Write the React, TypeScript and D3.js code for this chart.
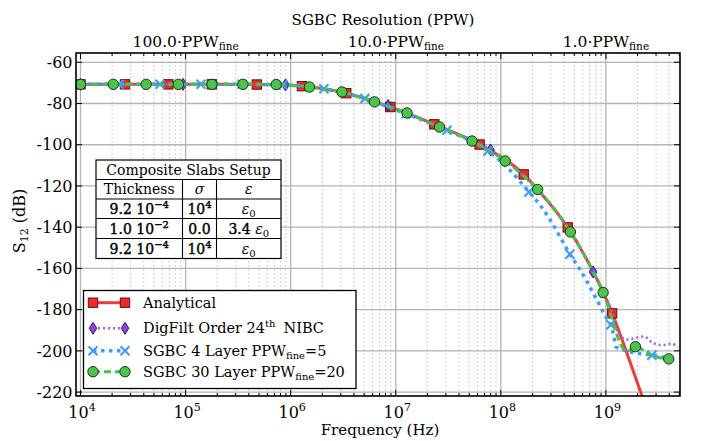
import React from 'react';
import * as d3 from 'd3';

// ---------------- data ----------------
const xDomain: [number, number] = [9.06e3, 5.07e9];
const yDomain: [number, number] = [-55.5, -221.9];
const yTicks = [-60, -80, -100, -120, -140, -160, -180, -200, -220];
const xMajorTicks = [1e4, 1e5, 1e6, 1e7, 1e8, 1e9];
const xTickExponents = ['4', '5', '6', '7', '8', '9'];
const topTickFreqs = [1e5, 1e7, 1e9];
const topTickLabels = ['100.0', '10.0', '1.0'];

const analyticalFreq = [1e4, 2.65e4, 6.86e4, 1.78e5, 4.76e5, 1.28e6, 3.38e6, 8.87e6, 2.33e7, 6.28e7, 1.65e8, 2.24e8, 4.33e8, 7.59e8, 9.44e8, 1.146e9, 2.21e9, 2.82e9];
const analyticalS12 = [-70.7, -70.7, -70.7, -70.7, -70.8, -71.6, -75.0, -81.7, -90.1, -99.9, -114.4, -121.7, -140.1, -161.7, -171.5, -181.8, -222.0, -237.0];
const analyticalMarkerIdx = [0, 1, 2, 3, 4, 5, 6, 7, 8, 9, 10, 12, 15];

const digfiltFreq = [1e4, 9.46e4, 3.16e5, 8.93e5, 3.16e6, 8.45e6, 2.51e7, 7.98e7, 2.0e8, 3.98e8, 7.55e8, 9.44e8, 1.146e9, 1.26e9, 1.58e9, 2.0e9, 2.29e9, 2.82e9, 3.47e9, 4.27e9, 4.79e9];
const digfiltS12 = [-70.7, -70.7, -70.7, -71.0, -74.7, -81.0, -91.0, -102.5, -119.5, -137.5, -161.7, -171.5, -181.8, -189.5, -194.5, -193.5, -193.0, -196.3, -197.2, -196.5, -198.5];
const digfiltMarkerIdx = [0, 1, 3, 5, 7, 10];

const sgbc4Freq = [1e4, 2.33e4, 5.71e4, 1.40e5, 3.44e5, 8.45e5, 2.07e6, 5.09e6, 1.25e7, 3.07e7, 7.53e7, 1.23e8, 1.85e8, 2.38e8, 2.95e8, 3.69e8, 4.54e8, 5.51e8, 6.62e8, 8.24e8, 1.0e9, 1.114e9, 1.19e9, 1.245e9, 1.58e9, 2.74e9, 3.98e9];
const sgbc4S12 = [-70.7, -70.7, -70.7, -70.7, -70.7, -71.0, -72.8, -77.6, -85.0, -93.0, -103.0, -112.5, -122.9, -129.5, -136.5, -145.0, -153.1, -159.5, -166.5, -175.5, -183.5, -187.3, -193.0, -198.0, -200.0, -202.1, -203.5];
const sgbc4MarkerIdx = [1, 2, 3, 4, 5, 6, 7, 8, 9, 10, 12, 16, 21, 25];

const sgbc30Freq = [1e4, 2.05e4, 4.21e4, 8.53e4, 1.78e5, 3.51e5, 7.28e5, 1.51e6, 3.08e6, 6.28e6, 1.28e7, 2.61e7, 5.32e7, 1.10e8, 2.24e8, 4.59e8, 9.40e8, 1.58e9, 1.91e9, 2.75e9, 3.96e9];
const sgbc30S12 = [-70.7, -70.7, -70.7, -70.7, -70.7, -70.7, -70.8, -72.0, -74.4, -79.2, -84.6, -91.4, -98.2, -107.9, -121.7, -142.3, -171.7, -200.3, -198.0, -202.3, -203.9];
const sgbc30MarkerIdx = [0, 1, 2, 3, 4, 5, 6, 7, 8, 9, 10, 11, 12, 13, 14, 15, 16, 18, 20];

const tableTitle = 'Composite Slabs Setup';
const tableHeaders = ['Thickness', 'σ', 'ε'];
const tableThicknessMant = ['9.2', '1.0', '9.2'];
const tableThicknessExp = ['−4', '−2', '−4'];
const tableSigma = ['10^4', '0.0', '10^4'];
const tableEps = ['ε0', '3.4 ε0', 'ε0'];

// ---------------- layout ----------------
const W = 702, H = 441;
const M = { left: 76, right: 680, top: 53, bottom: 396 };
const FONT = "'DejaVu Serif', serif";

const COLORS = {
  red: '#f23a3a', redFill: '#ec2a2a', redEdge: '#6e0f0f',
  purple: '#a65ee8', purpleFill: '#8c45d6', purpleEdge: '#3a1764',
  blue: '#3c9dff',
  green: '#45c545', greenFill: '#4cc44c', greenEdge: '#1c331c',
};

type MarkerKind = 'square' | 'diamond' | 'x' | 'circle';

function Marker({ kind, cx, cy }: { kind: MarkerKind; cx: number; cy: number }) {
  if (kind === 'square')
    return <rect x={cx - 4.7} y={cy - 4.7} width={9.4} height={9.4} fill={COLORS.redFill} stroke={COLORS.redEdge} strokeWidth={1} />;
  if (kind === 'diamond')
    return <path d={`M${cx},${cy - 6} L${cx + 3.8},${cy} L${cx},${cy + 6} L${cx - 3.8},${cy} Z`} fill={COLORS.purpleFill} stroke={COLORS.purpleEdge} strokeWidth={1} />;
  if (kind === 'x')
    return <g stroke={COLORS.blue} strokeWidth={2.2}>
      <line x1={cx - 4.5} y1={cy - 4.5} x2={cx + 4.5} y2={cy + 4.5} />
      <line x1={cx - 4.5} y1={cy + 4.5} x2={cx + 4.5} y2={cy - 4.5} />
    </g>;
  return <circle cx={cx} cy={cy} r={5.2} fill={COLORS.greenFill} stroke={COLORS.greenEdge} strokeWidth={1} />;
}

const series = [
  { key: 'an', freq: analyticalFreq, s12: analyticalS12, idx: analyticalMarkerIdx, color: COLORS.red, width: 3, dash: undefined as string | undefined, marker: 'square' as MarkerKind },
  { key: 'df', freq: digfiltFreq, s12: digfiltS12, idx: digfiltMarkerIdx, color: COLORS.purple, width: 2.6, dash: '2,3', marker: 'diamond' as MarkerKind },
  { key: 's4', freq: sgbc4Freq, s12: sgbc4S12, idx: sgbc4MarkerIdx, color: COLORS.blue, width: 3.5, dash: '3.5,4.5', marker: 'x' as MarkerKind },
  { key: 's30', freq: sgbc30Freq, s12: sgbc30S12, idx: sgbc30MarkerIdx, color: COLORS.green, width: 3, dash: '7,4', marker: 'circle' as MarkerKind },
];

export default function App() {
  const x = d3.scaleLog().domain(xDomain).range([M.left, M.right]);
  const y = d3.scaleLinear().domain(yDomain).range([M.top, M.bottom]);
  const line = d3.line<[number, number]>().x(d => x(d[0])).y(d => y(d[1])).curve(d3.curveMonotoneX);

  const allTicks = x.ticks(60).filter(v => v > xDomain[0] && v < xDomain[1]);
  const minorTicks = allTicks.filter(v => !xMajorTicks.some(m => Math.abs(m - v) / m < 1e-6));

  // table geometry
  const tL = 96, tR = 281;
  const rowsY = [160, 179.5, 199, 218.5, 238.5, 258.5];
  const colX = [tL, 182.5, 216.5, tR];
  const colC = [(colX[0] + colX[1]) / 2, (colX[1] + colX[2]) / 2, (colX[2] + colX[3]) / 2];

  // legend geometry
  const lg = { x: 83.5, y: 290.5, w: 272.5, h: 98 };
  const lgRows = [302.7, 328.3, 350.7, 371.7];

  const semi = { stroke: '#000', strokeWidth: 0.4 };

  const renderEps = (s: string, cx: number, cy: number) => {
    const parts = s.split('ε0');
    return (
      <text x={cx} y={cy} textAnchor="middle" fontSize={14}>
        {parts[0] ? <tspan {...semi}>{parts[0]}</tspan> : null}
        <tspan fontStyle="italic">ε</tspan>
        <tspan fontSize={10} dy={3}>0</tspan>
      </text>
    );
  };

  return (
    <svg width={W} height={H} style={{ position: 'absolute', left: 0, top: 0, background: '#fff' }} fontFamily={FONT}>
      <defs>
        <clipPath id="plotClip">
          <rect x={M.left} y={M.top} width={M.right - M.left} height={M.bottom - M.top} />
        </clipPath>
      </defs>
      <rect x={0} y={0} width={W} height={H} fill="#fff" />

      {/* grid */}
      <g>
        {minorTicks.map((v, i) => (
          <line key={'mg' + i} x1={x(v)} x2={x(v)} y1={M.top} y2={M.bottom} stroke="#c4c4c4" strokeWidth={1} strokeDasharray="1.5,2.5" />
        ))}
        {xMajorTicks.map((v, i) => (
          <line key={'xg' + i} x1={x(v)} x2={x(v)} y1={M.top} y2={M.bottom} stroke="#b4b4b4" strokeWidth={1.3} />
        ))}
        {yTicks.map((v, i) => (
          <line key={'yg' + i} x1={M.left} x2={M.right} y1={y(v)} y2={y(v)} stroke="#b4b4b4" strokeWidth={1.3} />
        ))}
      </g>

      {/* series */}
      <g clipPath="url(#plotClip)">
        {series.map(s => {
          const pts = s.freq.map((f, i) => [f, s.s12[i]] as [number, number]);
          return (
            <g key={s.key}>
              <path d={line(pts) || ''} fill="none" stroke={s.color} strokeWidth={s.width} strokeDasharray={s.dash} strokeLinecap="butt" />
              {s.idx.map(i => (
                <Marker key={i} kind={s.marker} cx={x(s.freq[i])} cy={y(s.s12[i])} />
              ))}
            </g>
          );
        })}
      </g>

      {/* ticks */}
      <g stroke="#000" strokeWidth={1}>
        {xMajorTicks.map((v, i) => (
          <g key={'xt' + i}>
            <line x1={x(v)} x2={x(v)} y1={M.bottom} y2={M.bottom - 6} />
            <line x1={x(v)} x2={x(v)} y1={M.top} y2={M.top + 6} />
          </g>
        ))}
        {minorTicks.map((v, i) => (
          <g key={'xm' + i}>
            <line x1={x(v)} x2={x(v)} y1={M.bottom} y2={M.bottom - 3} />
            <line x1={x(v)} x2={x(v)} y1={M.top} y2={M.top + 3} />
          </g>
        ))}
        {yTicks.map((v, i) => (
          <g key={'yt' + i}>
            <line x1={M.left} x2={M.left + 6} y1={y(v)} y2={y(v)} />
            <line x1={M.right} x2={M.right - 6} y1={y(v)} y2={y(v)} />
          </g>
        ))}
      </g>

      {/* frame */}
      <rect x={M.left} y={M.top} width={M.right - M.left} height={M.bottom - M.top} fill="none" stroke="#000" strokeWidth={1.6} />

      {/* y tick labels */}
      {yTicks.map((v, i) => (
        <text key={'yl' + i} x={72.5} y={y(v)} dy="0.36em" textAnchor="end" fontSize={16}>{String(v)}</text>
      ))}
      {/* x tick labels */}
      {xMajorTicks.map((v, i) => (
        <text key={'xl' + i} x={x(v) + 1.5} y={418} textAnchor="middle" fontSize={16}>
          10<tspan fontSize={11} dy={-7}>{xTickExponents[i]}</tspan>
        </text>
      ))}
      {/* top labels */}
      {topTickFreqs.map((v, i) => (
        <text key={'tl' + i} x={x(v)} y={46.5} textAnchor="middle" fontSize={15.5}>
          {topTickLabels[i]}·PPW<tspan fontSize={10.5} dy={3.5}>fine</tspan>
        </text>
      ))}
      <text x={383} y={25} textAnchor="middle" fontSize={15}>SGBC Resolution (PPW)</text>
      <text x={380} y={435} textAnchor="middle" fontSize={15}>Frequency (Hz)</text>
      <text transform="translate(25,221) rotate(-90)" textAnchor="middle" fontSize={16}>
        S<tspan fontSize={11} dy={3}>12</tspan><tspan dy={-3}> (dB)</tspan>
      </text>

      {/* table */}
      <g>
        <rect x={tL} y={rowsY[0]} width={tR - tL} height={rowsY[5] - rowsY[0]} fill="#fff" stroke="#000" strokeWidth={1.2} />
        {rowsY.slice(1, 5).map((ry, i) => (
          <line key={'tr' + i} x1={tL} x2={tR} y1={ry} y2={ry} stroke="#000" strokeWidth={1.1} />
        ))}
        {colX.slice(1, 3).map((cx, i) => (
          <line key={'tc' + i} x1={cx} x2={cx} y1={rowsY[1]} y2={rowsY[5]} stroke="#000" strokeWidth={1.1} />
        ))}
        <text x={(tL + tR) / 2} y={rowsY[0] + 15} textAnchor="middle" fontSize={14}>{tableTitle}</text>
        <text x={colC[0]} y={rowsY[1] + 14.5} textAnchor="middle" fontSize={14}>{tableHeaders[0]}</text>
        <text x={colC[1]} y={rowsY[1] + 14.5} textAnchor="middle" fontSize={14} fontStyle="italic">{tableHeaders[1]}</text>
        <text x={colC[2]} y={rowsY[1] + 14.5} textAnchor="middle" fontSize={14} fontStyle="italic">{tableHeaders[2]}</text>
        {tableThicknessMant.map((m, i) => {
          const by = rowsY[i + 2] + 15;
          const sig = tableSigma[i];
          return (
            <g key={'row' + i}>
              <text x={colC[0]} y={by} textAnchor="middle" fontSize={14} {...semi}>
                {m} 10<tspan fontSize={10} dy={-6}>{tableThicknessExp[i]}</tspan>
              </text>
              <text x={colC[1]} y={by} textAnchor="middle" fontSize={14} {...semi}>
                {sig.includes('^') ? <>{sig.split('^')[0]}<tspan fontSize={10} dy={-6}>{sig.split('^')[1]}</tspan></> : sig}
              </text>
              {renderEps(tableEps[i], colC[2], by)}
            </g>
          );
        })}
      </g>

      {/* legend */}
      <g>
        <rect x={lg.x} y={lg.y} width={lg.w} height={lg.h} fill="#fff" stroke="#000" strokeWidth={1.3} />
        {series.map((s, i) => (
          <g key={'lg' + i}>
            <line x1={93} x2={125} y1={lgRows[i]} y2={lgRows[i]} stroke={s.color} strokeWidth={s.width} strokeDasharray={s.dash} />
            <Marker kind={s.marker} cx={93} cy={lgRows[i]} />
            <Marker kind={s.marker} cx={125} cy={lgRows[i]} />
          </g>
        ))}
        <text x={143} y={lgRows[0] + 5} fontSize={14.5}>Analytical</text>
        <text x={143} y={lgRows[1] + 5} fontSize={14.5}>
          DigFilt Order 24<tspan fontSize={10} dy={-6}>th</tspan><tspan dy={6} dx={8}>NIBC</tspan>
        </text>
        <text x={143} y={lgRows[2] + 5} fontSize={14.5}>
          SGBC 4 Layer PPW<tspan fontSize={10} dy={3}>fine</tspan><tspan dy={-3}>=5</tspan>
        </text>
        <text x={143} y={lgRows[3] + 5} fontSize={14.5}>
          SGBC 30 Layer PPW<tspan fontSize={10} dy={3}>fine</tspan><tspan dy={-3}>=20</tspan>
        </text>
      </g>
    </svg>
  );
}
